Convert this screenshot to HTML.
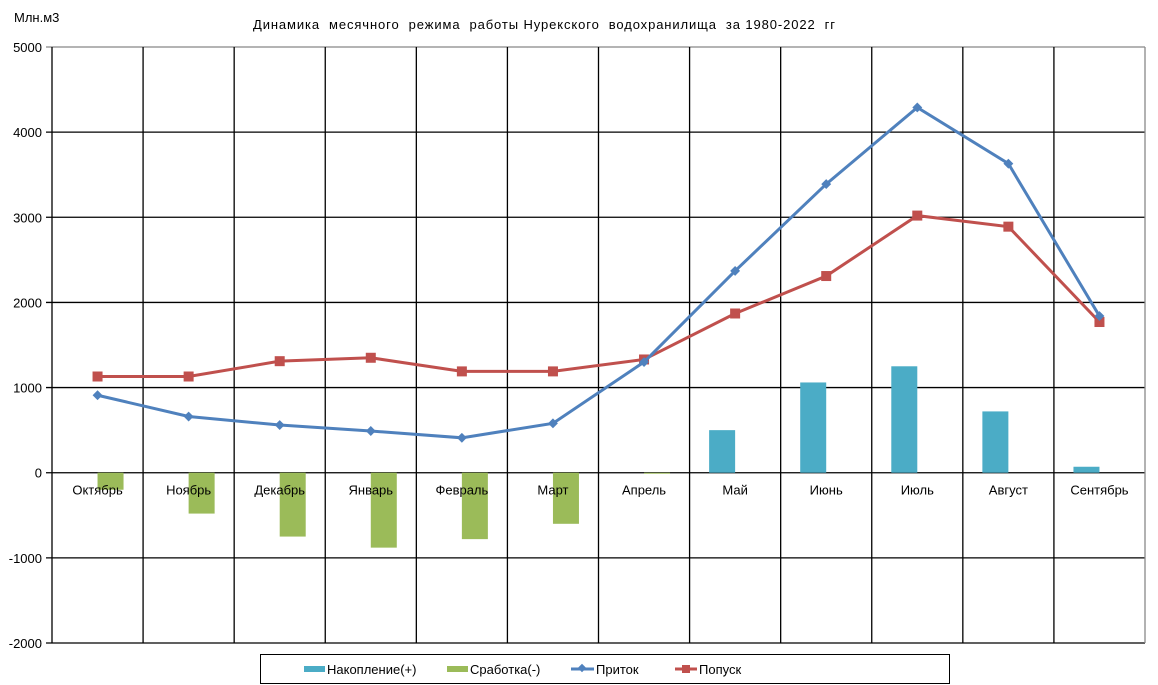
<!DOCTYPE html>
<html><head><meta charset="utf-8"><style>
body{margin:0;background:#fff;}
svg{display:block;font-family:"Liberation Sans",sans-serif;}
</style></head><body>
<svg id="chart" width="1158" height="685">
<text x="14" y="22" font-size="13">Млн.м3</text>
<text x="253" y="29" font-size="13" textLength="582" lengthAdjust="spacing" xml:space="preserve">Динамика  месячного  режима  работы Нурекского  водохранилища  за 1980-2022  гг</text>
<g id="grid"></g><g id="bars"></g><g id="lines"></g><g id="labels"></g>
<g>
<rect x="260.5" y="654.5" width="689" height="29" fill="#fff" stroke="#000"/>
<rect x="304" y="666" width="21" height="6" fill="#4bacc6"/>
<text x="327" y="674" font-size="13">Накопление(+)</text>
<rect x="447" y="666" width="21" height="6" fill="#9bbb59"/>
<text x="470" y="674" font-size="13">Сработка(-)</text>
<line x1="571" y1="669" x2="594" y2="669" stroke="#4f81bd" stroke-width="3"/>
<rect x="579" y="665" width="6" height="6" fill="#4f81bd" transform="rotate(45 582 668)"/>
<text x="596" y="674" font-size="13">Приток</text>
<line x1="675" y1="669" x2="697" y2="669" stroke="#c0504d" stroke-width="3"/>
<rect x="682" y="665" width="8" height="8" fill="#c0504d"/>
<text x="699" y="674" font-size="13">Попуск</text>
</g>
</svg>
<script>
const categories=["Октябрь","Ноябрь","Декабрь","Январь","Февраль","Март","Апрель","Май","Июнь","Июль","Август","Сентябрь"];
const accumulation=[0,0,0,0,0,0,0,500,1060,1250,720,70];
const drawdown=[-200,-480,-750,-880,-780,-600,-10,0,0,0,0,0];
const inflow=[910,660,560,490,410,580,1300,2370,3390,4290,3630,1840];
const release=[1130,1130,1310,1350,1190,1190,1330,1870,2310,3020,2890,1770];
const yTicks=[5000,4000,3000,2000,1000,0,-1000,-2000];
const NS="http://www.w3.org/2000/svg";
const L=52,R=1145,T=47,B=643,yMax=5000,yMin=-2000;
const cw=(R-L)/categories.length;
const y=v=>T+(yMax-v)/(yMax-yMin)*(B-T);
const xc=i=>L+(i+0.5)*cw;
function mk(tag,attrs,parent){const e=document.createElementNS(NS,tag);for(const k in attrs)e.setAttribute(k,attrs[k]);document.getElementById(parent).appendChild(e);return e;}
yTicks.forEach(t=>{
 const l=mk('line',{x1:L-6,x2:R,y1:y(t),y2:y(t),stroke:t===5000?'#888':'#000','stroke-width':1.3},'grid');
 
 
 const tx=mk('text',{x:L-10,y:y(t)+5,'font-size':13,'text-anchor':'end'},'labels');
 tx.textContent=t;
 
 
});
for(let i=0;i<=categories.length;i++){
 const x=L+i*cw;
 const l=mk('line',{x1:x,x2:x,y1:T,y2:B,stroke:(i===categories.length)?'#888':'#000','stroke-width':1.3},'grid');
 
 
}
categories.forEach((c,i)=>{
 if(accumulation[i]!==0){const r=mk('rect',{x:xc(i)-26,y:Math.min(y(accumulation[i]),y(0)),width:26,height:Math.abs(y(accumulation[i])-y(0)),fill:'#4bacc6'},'bars');
 
 }
 if(drawdown[i]!==0){const r=mk('rect',{x:xc(i),y:Math.min(y(drawdown[i]),y(0)),width:26,height:Math.max(1,Math.abs(y(drawdown[i])-y(0))),fill:'#9bbb59'},'bars');
 
 }
 const t=mk('text',{x:xc(i),y:y(0)+22,'font-size':13,'text-anchor':'middle'},'labels');
 t.textContent=c;
 
 
});
function series(vals,color,name,marker){
 const p=mk('polyline',{points:vals.map((v,i)=>xc(i)+','+y(v)).join(' '),fill:'none',stroke:color,'stroke-width':3},'lines');
 
 
 vals.forEach((v,i)=>{
  let m;
  if(marker==='diamond'){m=mk('rect',{x:xc(i)-3.5,y:y(v)-3.5,width:7,height:7,fill:color,transform:`rotate(45 ${xc(i)} ${y(v)})`},'lines');}
  else{m=mk('rect',{x:xc(i)-5,y:y(v)-5,width:10,height:10,fill:color},'lines');}
  
  
 });
}
series(release,'#c0504d','release','square');
series(inflow,'#4f81bd','inflow','diamond');
</script>
</body></html>
